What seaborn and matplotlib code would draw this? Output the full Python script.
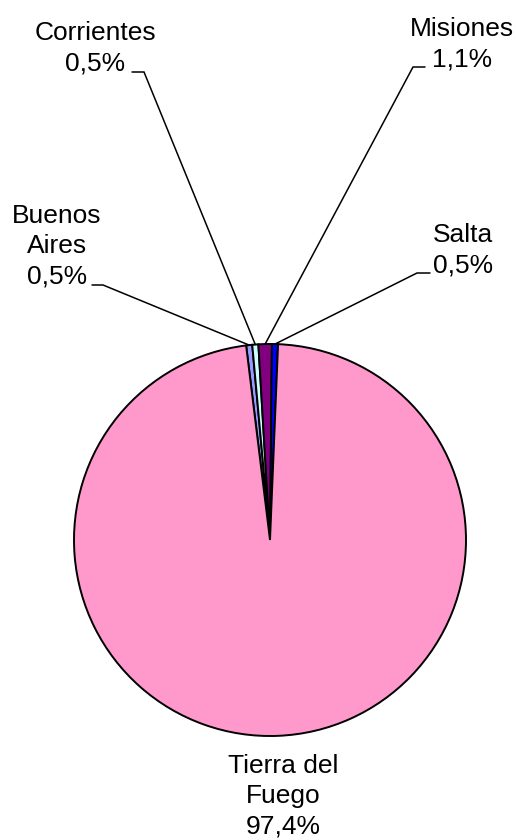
import numpy as np
import seaborn as sns
import matplotlib.pyplot as plt

provincias = ['Buenos Aires', 'Corrientes', 'Misiones', 'Salta', 'Tierra del Fuego']
porcentajes = [0.5, 0.5, 1.1, 0.5, 97.4]
etiquetas = ['Buenos\nAires\n0,5%', 'Corrientes\n0,5%', 'Misiones\n1,1%',
             'Salta\n0,5%', 'Tierra del\nFuego\n97,4%']
colores = ['#9999FF', '#CCFFFF', '#800080', '#0000FF', '#FF99CC']

sns.set_theme(style='white')
plt.rcParams['font.family'] = ['Liberation Sans', 'DejaVu Sans']

W, H = 517, 840
R = 196.0          # pie radius in pixels
CX, CY = 270, 540  # pie centre in pixels (from top)


def px(x, y):
    # pixel position -> data coords (pie radius = 1)
    return (x - CX) / R, (CY - y) / R


fig = plt.figure(figsize=(W / 100, H / 100), dpi=100)
ax = fig.add_axes([0, 0, 1, 1])

start = 97.0
wedges, _ = ax.pie(porcentajes, colors=colores, startangle=start, counterclock=False,
                   wedgeprops=dict(edgecolor='black', linewidth=1.4))

ax.set_xlim(-CX / R, (W - CX) / R)
ax.set_ylim(-(H - CY) / R, CY / R)
ax.set_aspect('equal')
ax.axis('off')

# label centres (pixels) and leader-line anchor (pixels) for the small slices
pos_texto = {
    'Buenos Aires': (57, 246),
    'Corrientes': (95, 48),
    'Misiones': (462, 44),
    'Salta': (463, 250),
    'Tierra del Fuego': (283, 796),
}
ancla = {
    'Buenos Aires': ((92, 285), (103, 285)),
    'Corrientes': ((132, 72), (144, 72)),
    'Misiones': ((425, 67), (413, 67)),
    'Salta': ((430, 273), (417, 273)),
}

for w, nombre, lab in zip(wedges, provincias, etiquetas):
    tx, ty = px(*pos_texto[nombre])
    ax.text(tx, ty, lab, ha='center', va='center', fontsize=19,
            linespacing=1.34, color='black')
    if nombre in ancla:
        ang = np.deg2rad((w.theta1 + w.theta2) / 2)
        ex, ey = np.cos(ang), np.sin(ang)
        (ax0, ay0), (ax1, ay1) = ancla[nombre]
        x0, y0 = px(ax0, ay0)
        x1, y1 = px(ax1, ay1)
        ax.plot([x0, x1, ex], [y0, y1, ey], color='black', lw=1.1,
                solid_joinstyle='miter')

fig.savefig('out.png', dpi=100, facecolor='white')
